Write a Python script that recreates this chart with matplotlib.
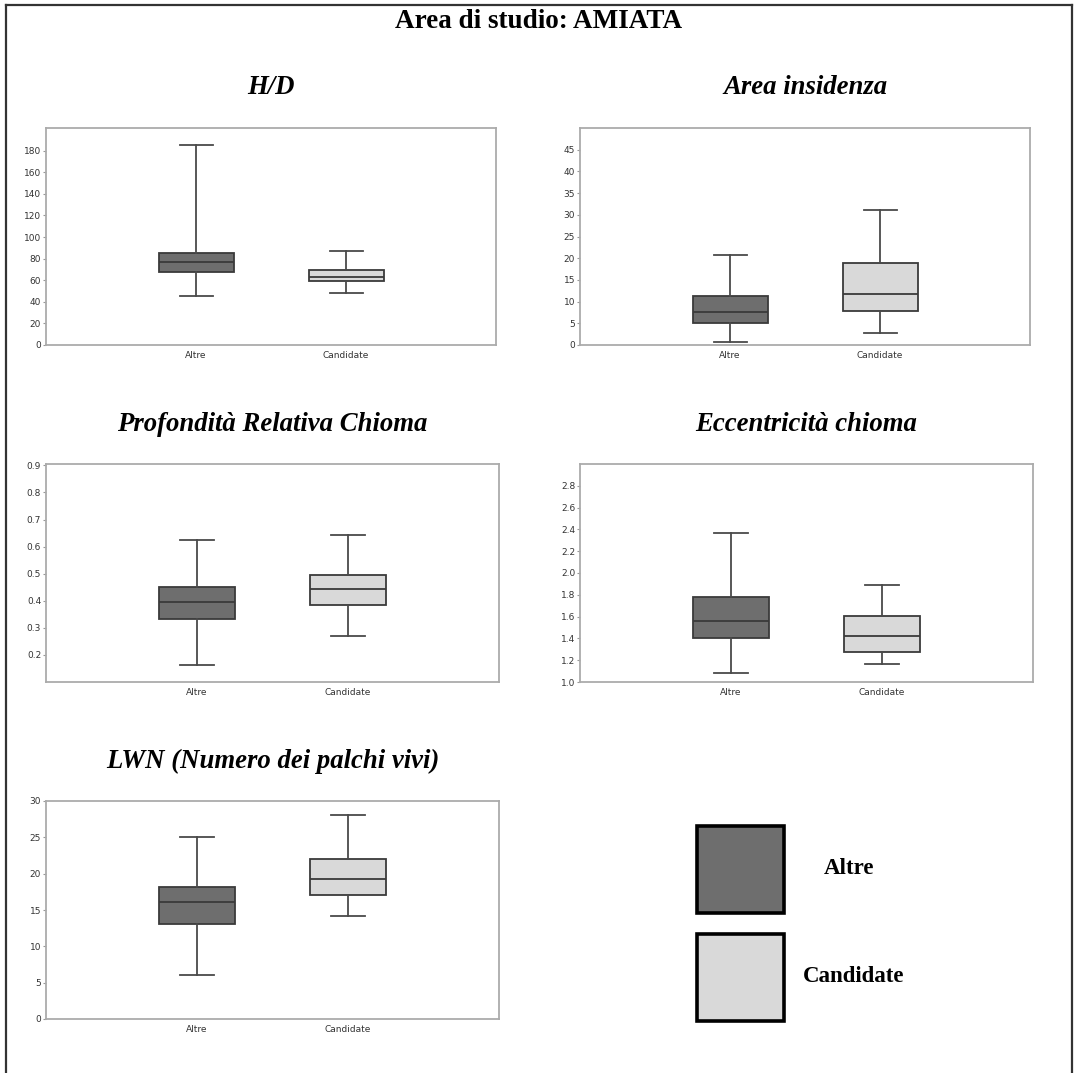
import matplotlib
matplotlib.use("Agg")
import matplotlib.pyplot as plt
from matplotlib.patches import Rectangle
from matplotlib.lines import Line2D

W, H = 1078, 1073
DPI = 100

groups = ["Altre", "Candidate"]
colors = ["#6e6e6e", "#d9d9d9"]

# stats: [whislo, q1, med, q3, whishi]
hd_stats = [[45.7, 68.0, 76.7, 85.6, 185.0], [48.0, 59.4, 62.8, 69.9, 87.5]]
area_stats = [[0.7, 5.1, 7.5, 11.4, 20.8], [2.7, 7.8, 11.8, 18.9, 31.0]]
prof_stats = [[0.163, 0.334, 0.394, 0.450, 0.623], [0.270, 0.386, 0.444, 0.495, 0.642]]
ecc_stats = [[1.079, 1.402, 1.562, 1.783, 2.367], [1.162, 1.276, 1.418, 1.608, 1.894]]
lwn_stats = [[6.1, 13.1, 16.1, 18.1, 25.1], [14.2, 17.1, 19.2, 22.0, 28.1]]

titles = ["H/D", "Area insidenza", "Profondità Relativa Chioma",
          "Eccentricità chioma", "LWN (Numero dei palchi vivi)"]
yticks_list = [list(range(0, 181, 20)), list(range(0, 46, 5)),
               [0.2, 0.3, 0.4, 0.5, 0.6, 0.7, 0.8, 0.9],
               [1.0, 1.2, 1.4, 1.6, 1.8, 2.0, 2.2, 2.4, 2.6, 2.8],
               [0, 5, 10, 15, 20, 25, 30]]
ytick_fmt = ["{:.0f}", "{:.0f}", "{:.1f}", "{:.1f}", "{:.0f}"]
ylims = [(0, 201), (0, 50), (0.1, 0.905), (1.0, 3.0), (0, 30)]
all_stats = [hd_stats, area_stats, prof_stats, ecc_stats, lwn_stats]

# axes pixel boxes: left, top, right, bottom
boxes = [(46, 128, 496, 345), (580, 128, 1030, 345), (46, 464, 499, 682),
         (580, 464, 1033, 682), (46, 801, 499, 1019)]

fig = plt.figure(figsize=(W / DPI, H / DPI), dpi=DPI)

def fx(x):
    return x / W

def fy(y):
    return 1 - y / H

serif = ["Liberation Serif", "DejaVu Serif"]
edge = "#3a3a3a"

for i, (l, t, r, b) in enumerate(boxes):
    ax = fig.add_axes([fx(l), fy(b), (r - l) / W, (b - t) / H])
    st = []
    for g, s in zip(groups, all_stats[i]):
        st.append(dict(label=g, whislo=s[0], q1=s[1], med=s[2], q3=s[3], whishi=s[4], fliers=[]))
    res = ax.bxp(st, positions=[1, 2], widths=0.5, capwidths=0.22, patch_artist=True,
                 showfliers=False,
                 boxprops=dict(edgecolor=edge, linewidth=1.3),
                 medianprops=dict(color=edge, linewidth=1.3),
                 whiskerprops=dict(color="#4a4a4a", linewidth=1.3),
                 capprops=dict(color="#4a4a4a", linewidth=1.3))
    for p, c in zip(res["boxes"], colors):
        p.set_facecolor(c)
    ax.set_xlim(0, 3)
    ax.set_ylim(*ylims[i])
    ax.set_yticks(yticks_list[i])
    ax.set_yticklabels([ytick_fmt[i].format(v) for v in yticks_list[i]])
    ax.set_xticks([1, 2])
    ax.set_xticklabels(groups)
    ax.tick_params(axis="y", length=2, width=0.8, color="#999999", labelsize=6.5,
                   labelcolor="#333333", pad=1.5)
    ax.tick_params(axis="x", length=0, labelsize=6.5, labelcolor="#333333", pad=4)
    for sp in ax.spines.values():
        sp.set_color("#ababab")
        sp.set_linewidth(1.3)
    cx = (l + r) / 2
    fig.text(fx(cx), fy(t - 40), titles[i], ha="center", va="center",
             fontsize=19.3, fontweight="bold", fontstyle="italic", family=serif)

fig.text(fx(539), fy(22), "Area di studio: AMIATA", ha="center", va="center",
         fontsize=19.5, fontweight="bold", family=serif)

# legend squares
leg_boxes = [(697, 826, 784, 913), (697, 934, 784, 1021)]
leg_text_pos = [(849, 869), (854, 977)]
for (l, t, r, b), c, g, (tx, ty) in zip(leg_boxes, colors, groups, leg_text_pos):
    fig.patches.append(Rectangle((fx(l), fy(b)), (r - l) / W, (b - t) / H,
                                 transform=fig.transFigure, facecolor=c,
                                 edgecolor="black", linewidth=2.6))
    fig.text(fx(tx), fy(ty), g, ha="center", va="center", fontsize=16.5,
             fontweight="bold", family=serif)

# outer frame (left, top, right)
frame_col = "#333333"
lw_frame = 1.6
fig.lines.append(Line2D([fx(6), fx(6)], [fy(5), 0], transform=fig.transFigure,
                        color=frame_col, linewidth=lw_frame))
fig.lines.append(Line2D([fx(6), fx(1072)], [fy(5), fy(5)], transform=fig.transFigure,
                        color=frame_col, linewidth=lw_frame))
fig.lines.append(Line2D([fx(1072), fx(1072)], [fy(5), 0], transform=fig.transFigure,
                        color=frame_col, linewidth=lw_frame))

fig.savefig("out.png", dpi=DPI)
